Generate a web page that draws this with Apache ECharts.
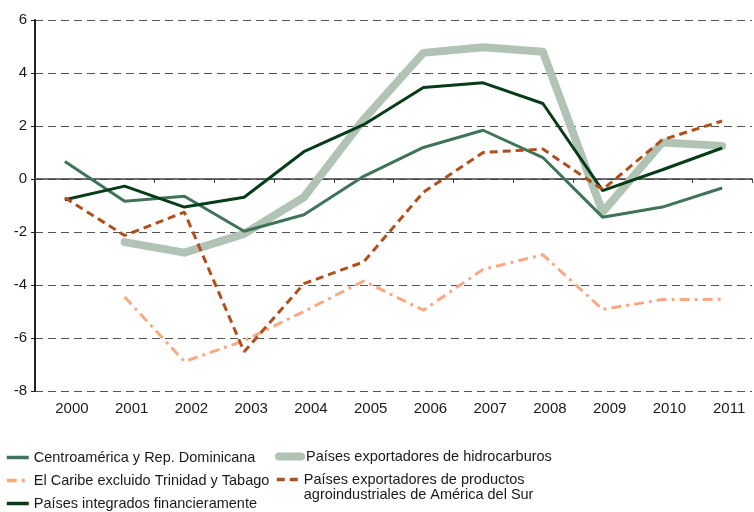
<!DOCTYPE html>
<html>
<head>
<meta charset="utf-8">
<script src="https://cdn.jsdelivr.net/npm/echarts@6/dist/echarts.min.js"></script>
<style>
    html, body { margin: 0; padding: 0; background: #fff; }
    #chart { width: 754px; height: 512px; }
</style>
</head>
<body>
<div id="chart"></div>
<script>
const years = ['2000', '2001', '2002', '2003', '2004', '2005', '2006', '2007', '2008', '2009', '2010', '2011']

// valores
const centroamerica = [0.66, -0.84, -0.65, -1.97, -1.35, 0.1, 1.19, 1.84, 0.81, -1.44, -1.06, -0.34]
const caribe = [null, -4.45, -6.89, -6.1, -5.0, -3.85, -4.95, -3.41, -2.86, -4.92, -4.55, -4.54]
const integrados = [-0.78, -0.27, -1.06, -0.69, 1.03, 2.05, 3.45, 3.63, 2.85, -0.44, 0.35, 1.17]
const hidrocarburos = [null, -2.38, -2.78, -2.07, -0.69, 2.25, 4.76, 4.97, 4.8, -1.25, 1.38, 1.25]
const agroindustriales = [-0.71, -2.13, -1.25, -6.52, -3.95, -3.13, -0.5, 1.0, 1.13, -0.4, 1.48, 2.19]

const NAME = {
    centro: 'Centroamérica y Rep. Dominicana',
    caribe: 'El Caribe excluido Trinidad y Tabago',
    integrados: 'Países integrados financieramente',
    hidro: 'Países exportadores de hidrocarburos',
    agro: 'Países exportadores de productos\nagroindustriales de América del Sur'
}

const COLOR = {
    centro: '#3f7458',
    caribe: '#f9a882',
    integrados: '#063c17',
    hidro: '#b1c3b4',
    agro: '#b04f1c',
    text: '#1a1a1a'
}

const chart = echarts.init(document.getElementById('chart'))

function legendBlock(left, top, data, formatter) {
    return {
        orient: 'vertical',
        left: left,
        top: top,
        itemWidth: 22,
        itemHeight: 12,
        itemGap: 8,
        padding: 0,
        itemStyle: { opacity: 0 }, // sin círculo, solo la línea
        textStyle: {
            fontFamily: 'Liberation Sans, Arial, sans-serif',
            fontSize: 14.5,
            color: COLOR.text,
            lineHeight: 15
        },
        formatter: formatter || '{name}',
        data: data
    }
}

const option = {
    animation: false,
    grid: { left: 35, right: 2, top: 20, bottom: 121 },
    legend: [
        legendBlock(5, 450, [
            { name: NAME.centro, lineStyle: { width: 3.5 } },
            { name: NAME.caribe, lineStyle: { width: 3.5 } },
            { name: NAME.integrados, lineStyle: { width: 3.5 } }
        ]),
        legendBlock(275, 449, [
            { name: NAME.hidro, lineStyle: { width: 8 } }
        ]),
        // línea vacía delante: el símbolo queda a la altura de la primera línea
        legendBlock(275, 457, [
            { name: NAME.agro, lineStyle: { width: 3.5 } }
        ], name => '\n' + name)
    ],
    xAxis: [
        { // etiquetas abajo
            type: 'category',
            data: years,
            position: 'bottom',
            axisLine: { show: false, onZero: false },
            axisTick: { show: false },
            axisLabel: {
                fontFamily: 'Liberation Sans, Arial, sans-serif',
                fontSize: 15,
                color: COLOR.text,
                margin: 10,
                padding: [0, 0, 0, 14]
            }
        },
        { // línea del cero
            type: 'category',
            data: years,
            position: 'bottom',
            axisLine: { show: true, onZero: true, lineStyle: { color: '#404040', width: 1.5 } },
            axisTick: { show: true, length: 4, lineStyle: { color: '#404040' } },
            axisLabel: { show: false }
        }
    ],
    yAxis: {
        type: 'value',
        min: -8,
        max: 6,
        interval: 2,
        axisLine: { show: true, onZero: false, lineStyle: { color: '#222', width: 2 } },
        axisTick: { show: true, length: 4, lineStyle: { color: '#222' } },
        axisLabel: {
            fontFamily: 'Liberation Sans, Arial, sans-serif',
            fontSize: 15,
            color: COLOR.text,
            margin: 8
        },
        splitLine: {
            show: true,
            lineStyle: { color: '#555', width: 1, type: [8, 5] }
        }
    },
    series: [
        {
            name: NAME.hidro,
            type: 'line',
            data: hidrocarburos,
            symbol: 'none',
            lineStyle: { color: COLOR.hidro, width: 8, cap: 'round', join: 'round' },
            itemStyle: { color: COLOR.hidro },
            z: 1
        },
        {
            name: NAME.centro,
            type: 'line',
            data: centroamerica,
            symbol: 'none',
            lineStyle: { color: COLOR.centro, width: 3 },
            itemStyle: { color: COLOR.centro },
            z: 2
        },
        {
            name: NAME.caribe,
            type: 'line',
            data: caribe,
            symbol: 'none',
            lineStyle: { color: COLOR.caribe, width: 3, type: [10, 5, 3, 5] },
            itemStyle: { color: COLOR.caribe },
            z: 2
        },
        {
            name: NAME.integrados,
            type: 'line',
            data: integrados,
            symbol: 'none',
            lineStyle: { color: COLOR.integrados, width: 3 },
            itemStyle: { color: COLOR.integrados },
            z: 3
        },
        {
            name: NAME.agro,
            type: 'line',
            data: agroindustriales,
            symbol: 'none',
            lineStyle: { color: COLOR.agro, width: 3, type: [8, 5] },
            itemStyle: { color: COLOR.agro },
            z: 4
        }
    ]
}

chart.setOption(option)
</script>
</body>
</html>
